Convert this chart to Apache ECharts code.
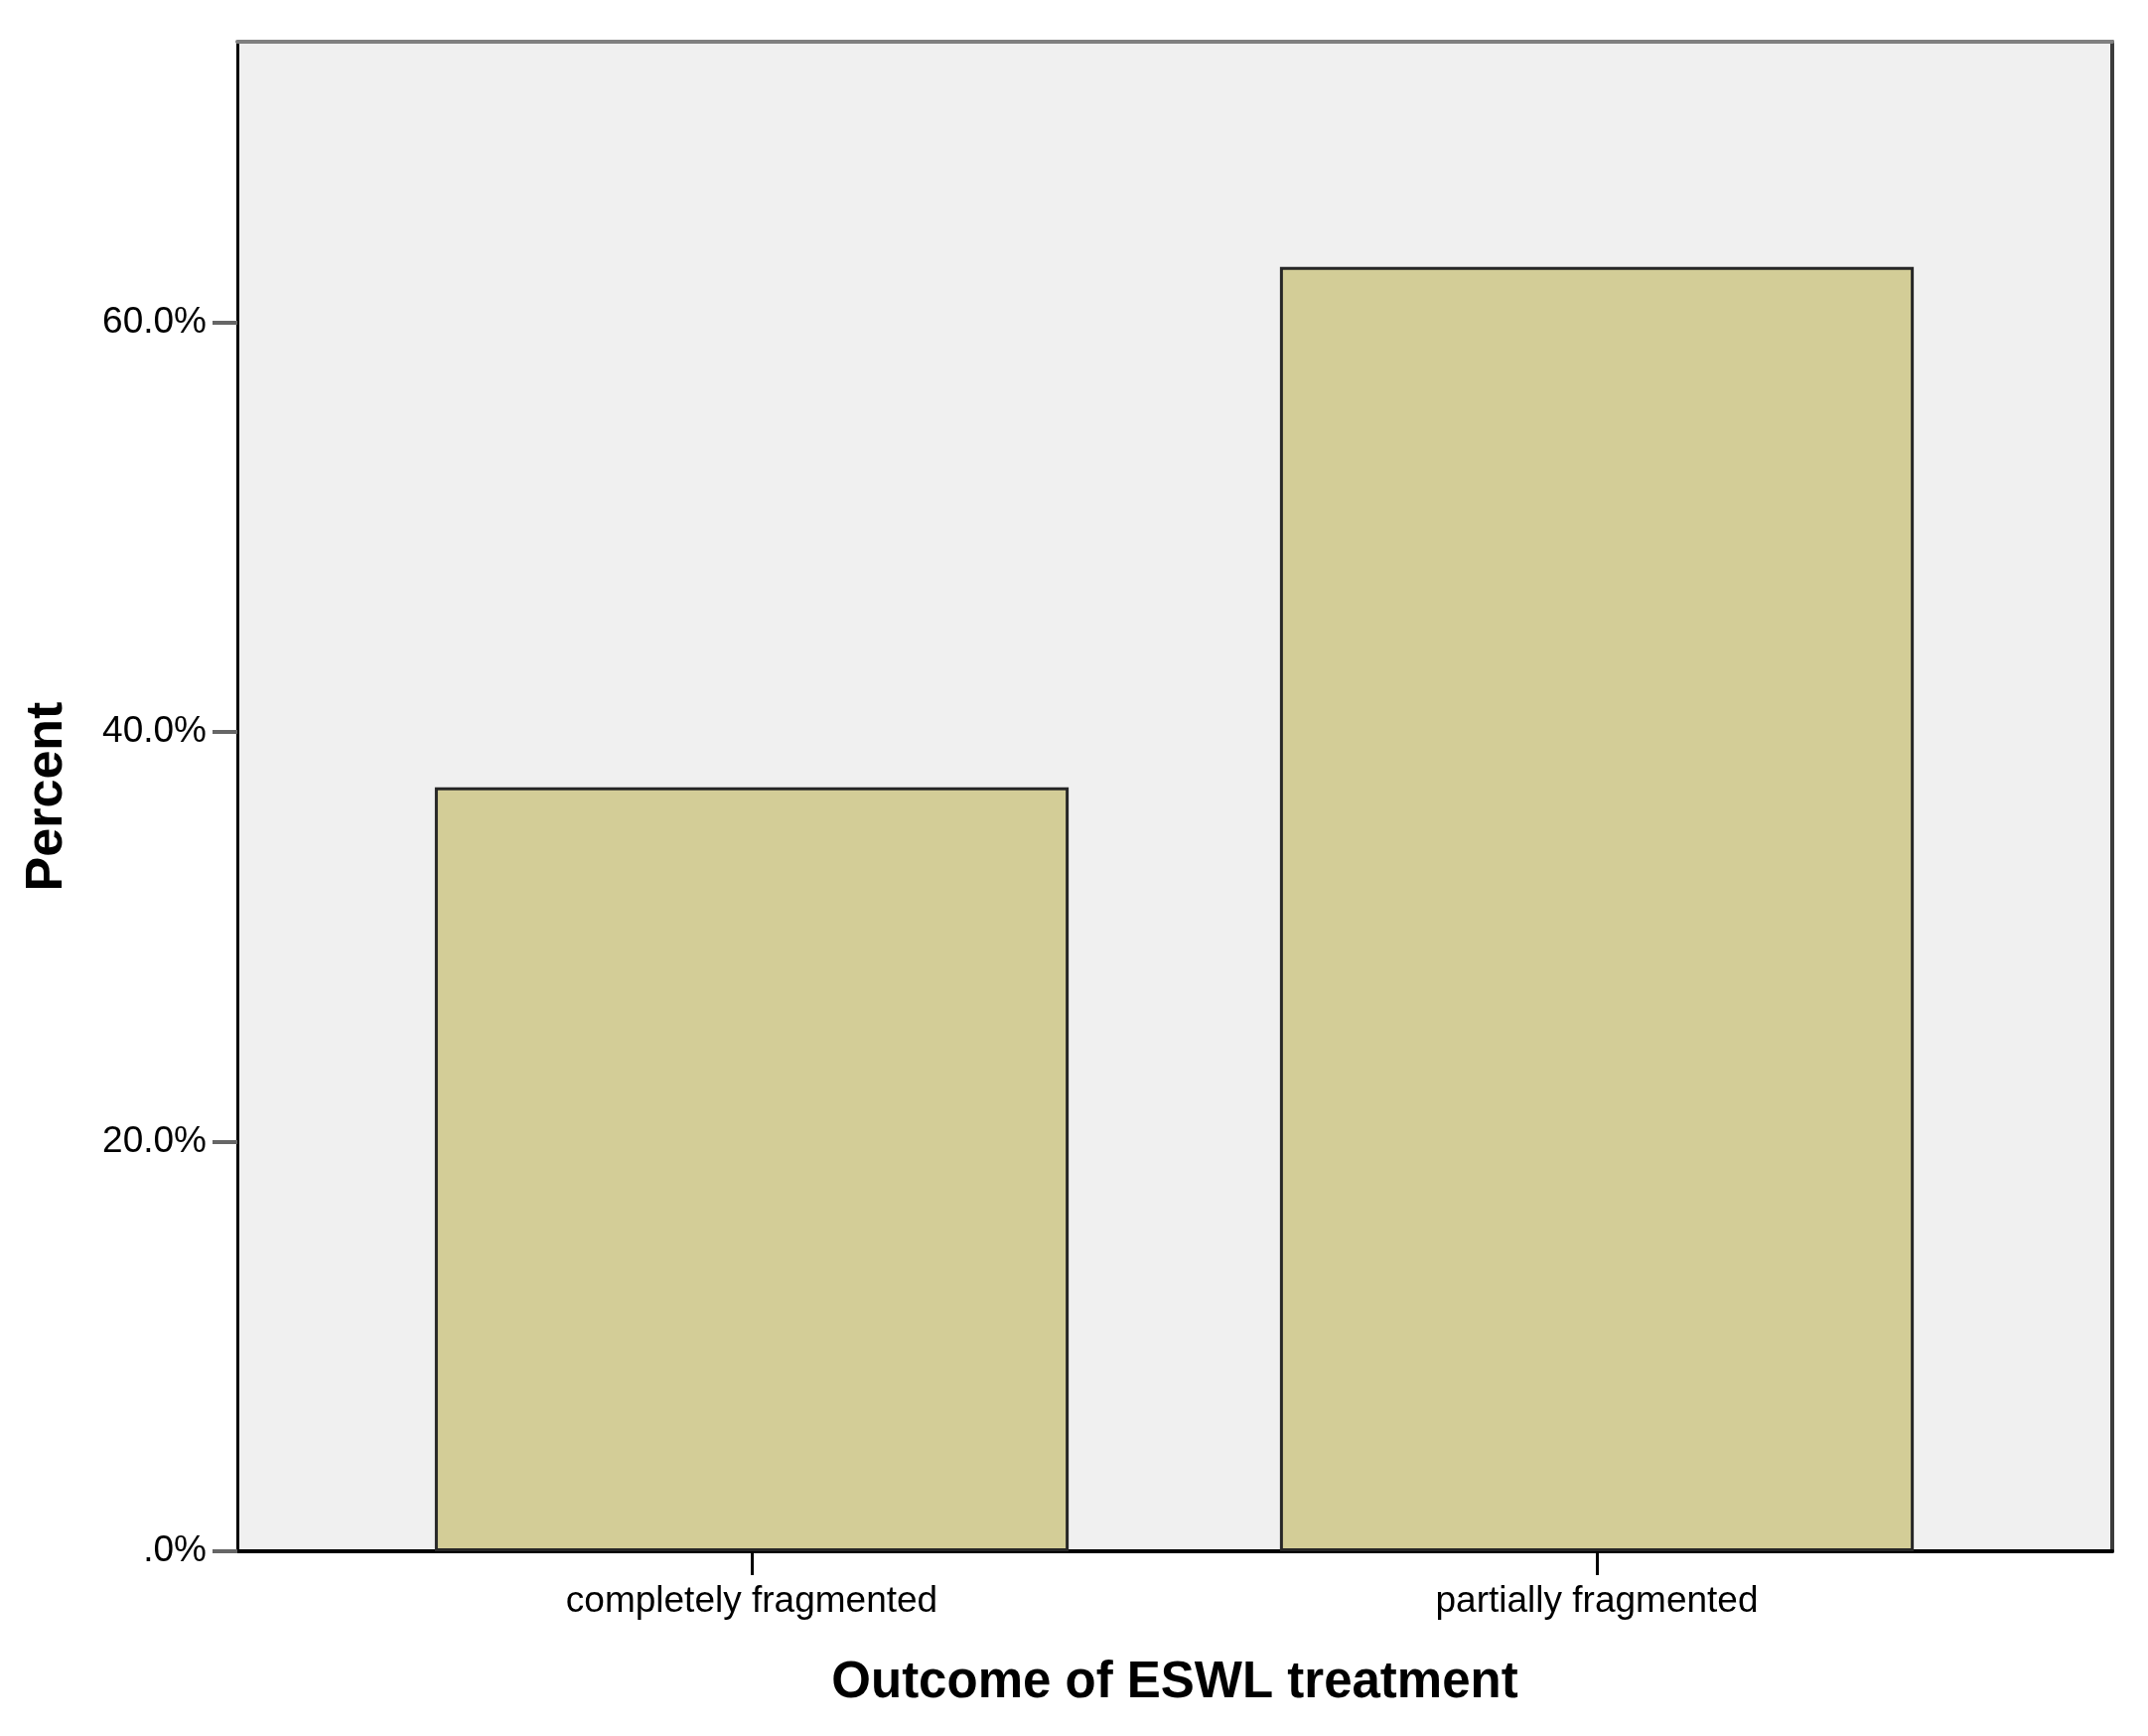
<!DOCTYPE html>
<html>
<head>
<meta charset="utf-8">
<script src="https://cdn.jsdelivr.net/npm/echarts@6/dist/echarts.min.js"></script>
<style>
html,body{margin:0;padding:0;background:#fff;}
#chart{width:2163px;height:1748px;}
</style>
</head>
<body>
<div id="chart"></div>
<script>
const categories = ['completely fragmented', 'partially fragmented'];
const percentValues = [37.3, 62.7];
const yTickValues = [0, 20, 40, 60];
const yTickLabels = ['.0%', '20.0%', '40.0%', '60.0%'];
const xTitle = 'Outcome of ESWL treatment';
const yTitle = 'Percent';
const yMax = 73.7;

const FONT = '"Liberation Sans", Arial, sans-serif';
const chart = echarts.init(document.getElementById('chart'));
chart.setOption({
  animation: false,
  backgroundColor: '#ffffff',
  grid: [
    {left: 239, right: 36, top: 42, bottom: 186, show: true, backgroundColor: '#f0f0f0', borderWidth: 0},
    {left: 331.5, right: 129.5, top: 42, bottom: 186}
  ],
  xAxis: [
    {
      gridIndex: 0, type: 'value', min: 0, max: 1, position: 'top',
      axisLine: {show: true, onZero: false, lineStyle: {color: '#808080', width: 4}},
      axisTick: {show: false}, axisLabel: {show: false}, splitLine: {show: false}
    },
    {
      gridIndex: 0, type: 'value', min: 0, max: 1, position: 'bottom',
      axisLine: {show: true, onZero: false, lineStyle: {color: '#000', width: 4}},
      axisTick: {show: false}, axisLabel: {show: false}, splitLine: {show: false},
      name: xTitle, nameLocation: 'middle', nameGap: 107,
      nameTextStyle: {fontFamily: FONT, fontSize: 51, fontWeight: 'bold', color: '#000'}
    },
    {
      gridIndex: 1, type: 'category', data: categories, position: 'bottom',
      axisLine: {show: false, onZero: false},
      axisTick: {show: true, alignWithLabel: true, length: 24, lineStyle: {color: '#000', width: 3}},
      axisLabel: {margin: 32, fontFamily: FONT, fontSize: 37, color: '#000'},
      splitLine: {show: false}
    }
  ],
  yAxis: [
    {
      gridIndex: 0, type: 'value', min: 0, max: yMax, position: 'right',
      axisLine: {show: true, onZero: false, lineStyle: {color: '#3c3c3c', width: 4}},
      axisTick: {show: false}, axisLabel: {show: false}, splitLine: {show: false}
    },
    {
      gridIndex: 0, type: 'value', min: 0, max: yMax, position: 'left',
      axisLine: {show: true, onZero: false, lineStyle: {color: '#000', width: 3}},
      axisTick: {show: true, length: 25, customValues: yTickValues, lineStyle: {color: '#666', width: 4}},
      axisLabel: {
        customValues: yTickValues, margin: 31, fontFamily: FONT, fontSize: 37, color: '#000',
        padding: [14, 0, 0, 0],
        formatter: function (v) { return yTickLabels[yTickValues.indexOf(v)]; }
      },
      splitLine: {show: false},
      name: yTitle, nameLocation: 'middle', nameGap: 165,
      nameTextStyle: {fontFamily: FONT, fontSize: 52, fontWeight: 'bold', color: '#000'}
    },
    {
      gridIndex: 1, type: 'value', min: 0, max: yMax, show: false
    }
  ],
  series: [{
    type: 'bar', xAxisIndex: 2, yAxisIndex: 2,
    data: percentValues,
    barWidth: '75%',
    itemStyle: {color: '#d3cd97', borderColor: '#262626', borderWidth: 3}
  }]
});
</script>
</body>
</html>
